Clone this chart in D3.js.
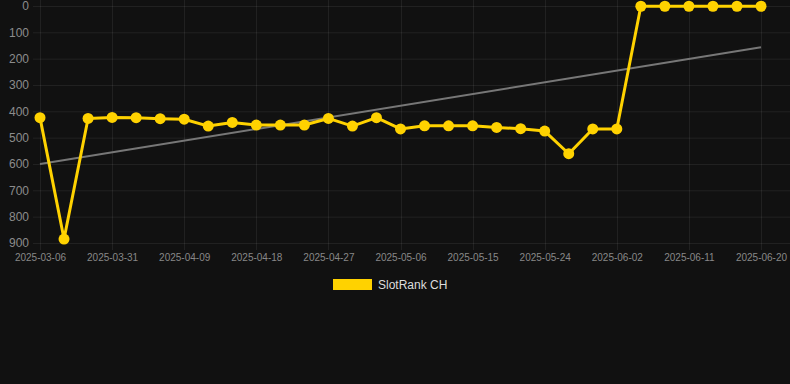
<!DOCTYPE html>
<html><head><meta charset="utf-8">
<script src="https://cdn.jsdelivr.net/npm/d3@7"></script>
<style>html,body{margin:0;padding:0;background:#111111;}svg{display:block;}</style>
</head><body>
<div id="chart"></div>
<script>
const categories = ["2025-03-06","2025-03-25","2025-03-28","2025-03-31","2025-04-03","2025-04-06","2025-04-09","2025-04-12","2025-04-15","2025-04-18","2025-04-21","2025-04-24","2025-04-27","2025-04-30","2025-05-03","2025-05-06","2025-05-09","2025-05-12","2025-05-15","2025-05-18","2025-05-21","2025-05-24","2025-05-27","2025-05-30","2025-06-02","2025-06-05","2025-06-08","2025-06-11","2025-06-14","2025-06-17","2025-06-20"];
const rankValues = [424,885,427,423,424,428,430,456,442,452,452,452,427,456,424,467,455,455,455,461,466,475,561,467,467,1,1,1,1,1,1];
const yTicks = [0,100,200,300,400,500,600,700,800,900];
const seriesName = "SlotRank CH";

const W = 790, H = 384;
const svg = d3.select("#chart").append("svg").attr("width", W).attr("height", H);
svg.append("rect").attr("width", W).attr("height", H).attr("fill", "#111111");

const x = d3.scalePoint().domain(categories).range([40, 761]);
const y = d3.scaleLinear().domain([0, 900]).range([6, 243]);

const gridColor = "rgba(255,255,255,0.07)";
// horizontal grid
svg.append("g").selectAll("line").data(yTicks).join("line")
  .attr("x1", 33).attr("x2", W).attr("y1", d => y(d) + 0.5).attr("y2", d => y(d) + 0.5)
  .attr("stroke", gridColor).attr("stroke-width", 1);
// vertical grid at labelled categories
const shown = categories.filter((d, i) => i % 3 === 0);
svg.append("g").selectAll("line").data(shown).join("line")
  .attr("x1", d => Math.round(x(d)) + 0.5).attr("x2", d => Math.round(x(d)) + 0.5)
  .attr("y1", 0).attr("y2", 250)
  .attr("stroke", gridColor).attr("stroke-width", 1);

// y axis labels
const yAxis = d3.axisLeft(y).tickValues(yTicks).tickSize(0).tickPadding(0);
const gy = svg.append("g").attr("transform", "translate(29,0)").call(yAxis);
gy.select(".domain").remove();
gy.selectAll("text").attr("fill", "#8c8c8c").style("font-family", "Arial, 'Liberation Sans', sans-serif").style("font-size", "12px");

// x axis labels
const xAxis = d3.axisBottom(x).tickValues(shown).tickSize(0).tickPadding(0);
const gx = svg.append("g").attr("transform", "translate(0,254)").call(xAxis);
gx.select(".domain").remove();
gx.selectAll("text").attr("fill", "#888888").style("font-family", "Arial, 'Liberation Sans', sans-serif").style("font-size", "10px");

// trend line (linear regression)
const n = rankValues.length;
const xs = d3.range(n);
const mx = d3.mean(xs), my = d3.mean(rankValues);
const slope = d3.sum(xs, i => (i - mx) * (rankValues[i] - my)) / d3.sum(xs, i => (i - mx) * (i - mx));
const intercept = my - slope * mx;
svg.append("line")
  .attr("x1", x(categories[0])).attr("y1", y(intercept))
  .attr("x2", x(categories[n - 1])).attr("y2", y(intercept + slope * (n - 1)))
  .attr("stroke", "#777777").attr("stroke-width", 2);

// series line
const line = d3.line().x((d, i) => x(categories[i])).y(d => y(d));
svg.append("path").datum(rankValues).attr("d", line)
  .attr("fill", "none").attr("stroke", "#FFD200").attr("stroke-width", 3).attr("stroke-linejoin", "round");
svg.append("g").selectAll("circle").data(rankValues).join("circle")
  .attr("cx", (d, i) => x(categories[i])).attr("cy", d => y(d)).attr("r", 5.5)
  .attr("fill", "#FFD200");

// legend
svg.append("rect").attr("x", 333).attr("y", 279).attr("width", 39).attr("height", 11).attr("fill", "#FFD200");
svg.append("text").attr("x", 378).attr("y", 289).text(seriesName)
  .attr("fill", "#dddddd").style("font-family", "Arial, 'Liberation Sans', sans-serif").style("font-size", "12px");
</script>
</body></html>
